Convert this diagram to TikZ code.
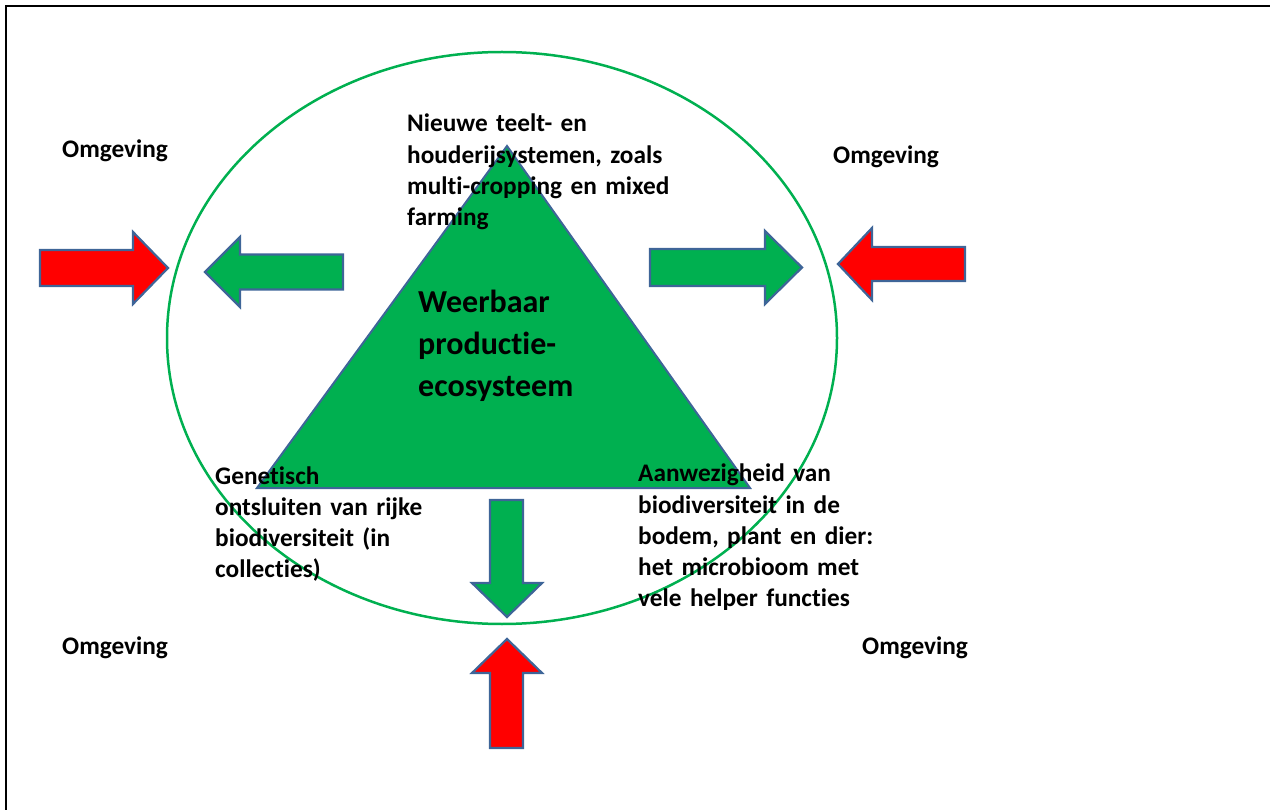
\documentclass[tikz,border=0pt]{standalone}
\usepackage{fontspec}
\setmainfont{Carlito}[Ligatures=CommonOff]
\newfontfamily\lblfont{Carlito}[Ligatures=CommonOff, WordSpace=0.8]
\definecolor{pgreen}{HTML}{00B050}
\definecolor{pred}{HTML}{FF0000}
\definecolor{pedge}{HTML}{3E6598}
\tikzset{
  garrow/.style={fill=pgreen, draw=pedge, line width=2.2pt, line join=miter},
  rarrow/.style={fill=pred, draw=pedge, line width=2.2pt, line join=miter},
  lbl/.style={anchor=base west, inner sep=0pt, align=left, text width=#1,
    font=\lblfont\fontsize{25.3}{31.2}\selectfont\bfseries},
  lbl/.default=300pt,
  biglbl/.style={anchor=base west, inner sep=0pt, align=left, text width=250pt,
    font=\fontsize{32}{42}\selectfont\bfseries}
}
\begin{document}
\begin{tikzpicture}[x=1pt,y=-1pt]
\useasboundingbox (0,0) rectangle (1270,810);
% frame
\draw[line width=2.5pt] (6,810) -- (6,6) -- (1270,6);
% arrows
\draw[rarrow] (40,250) -- (133,250) -- (133,232) -- (168,268) -- (133,304) -- (133,286) -- (40,286) -- cycle;
\draw[garrow] (343,254.5) -- (240,254.5) -- (240,237) -- (205,272) -- (240,307) -- (240,289.5) -- (343,289.5) -- cycle;
\draw[garrow] (650,249) -- (765,249) -- (765,231) -- (802,267.5) -- (765,304) -- (765,286) -- (650,286) -- cycle;
\draw[rarrow] (965,247) -- (872,247) -- (872,228) -- (838,264) -- (872,300) -- (872,281) -- (965,281) -- cycle;
\draw[garrow] (490,500) -- (523,500) -- (523,583) -- (542,583) -- (507,617) -- (472,583) -- (490,583) -- cycle;
\draw[rarrow] (490,748) -- (523,748) -- (523,673) -- (542,673) -- (507,639) -- (472,673) -- (490,673) -- cycle;
% ellipse
\draw[pgreen, line width=2.5pt] (502,338) ellipse [x radius=335pt, y radius=286pt];
% triangle
\draw[fill=pgreen, draw=pedge, line width=2pt, line join=miter] (257,488) -- (507,146) -- (750,488) -- cycle;
% texts
\node[biglbl] (core) at (418,313) {Weerbaar\\productie-\\ecosysteem};
\node[lbl] (top) at (407,132) {Nieuwe teelt- en\\houderijsystemen, zoals\\multi-cropping en mixed\\farming};
\node[lbl] (gen) at (215,484) {Genetisch\\ontsluiten van rijke\\biodiversiteit (in\\collecties)};
\node[lbl] (bio) at (638,482) {Aanwezigheid van\\biodiversiteit in de\\bodem, plant en dier:\\het microbioom met\\vele helper functies};
\node[lbl=150pt] (om1) at (62,158) {Omgeving};
\node[lbl=150pt] (om2) at (833,164) {Omgeving};
\node[lbl=150pt] (om3) at (62,654) {Omgeving};
\node[lbl=150pt] (om4) at (862,654) {Omgeving};
\end{tikzpicture}
\end{document}
